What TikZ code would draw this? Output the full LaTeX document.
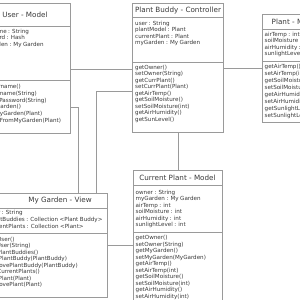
\documentclass[tikz,border=0pt]{standalone}
\usepackage{fontspec}
\setmainfont{DejaVu Sans}
\newfontfamily\bodyfont{DejaVu Sans}[WordSpace=0.85]
\definecolor{edge}{HTML}{9A9A9A}
\definecolor{ink}{HTML}{3A3A3A}
\tikzset{
 box/.style={draw=edge, line width=0.7pt, fill=white, inner sep=0pt, outer sep=0pt, anchor=north west},
 divl/.style={draw=edge, line width=0.7pt},
 conn/.style={draw=edge, line width=0.6pt},
 ttl/.style={font=\fontsize{7.2}{8}\selectfont, text=ink, inner sep=0pt},
 body/.style={font=\bodyfont\fontsize{5.6}{6}\selectfont, text=ink, inner sep=0pt, anchor=west, text height=4.1pt, text depth=1.2pt},
}
\begin{document}
\begin{tikzpicture}[x=1pt,y=-1pt]
\useasboundingbox (0,0) rectangle (300,300);
\fill[white] (0,0) rectangle (300,300);
% boxes
\node[box, minimum width=95pt, minimum height=130pt] (user) at (-25,3) {};
\node[box, minimum width=91pt, minimum height=129pt] (pb) at (132,3) {};
\node[box, minimum width=60pt, minimum height=108pt] (plant) at (262,14) {};
\node[box, minimum width=89pt, minimum height=140pt] (cp) at (133,170) {};
\node[box, minimum width=122pt, minimum height=104pt] (mg) at (-15,193) {};
% dividers
\draw[divl] ([yshift=-23pt]user.north west) -- ([yshift=-23pt]user.north east);
\draw[divl] ([yshift=-77pt]user.north west) -- ([yshift=-77pt]user.north east);
\draw[divl] ([yshift=-14pt]pb.north west) -- ([yshift=-14pt]pb.north east);
\draw[divl] ([yshift=-59pt]pb.north west) -- ([yshift=-59pt]pb.north east);
\draw[divl] ([yshift=-15pt]plant.north west) -- ([yshift=-15pt]plant.north east);
\draw[divl] ([yshift=-47pt]plant.north west) -- ([yshift=-47pt]plant.north east);
\draw[divl] ([yshift=-15pt]cp.north west) -- ([yshift=-15pt]cp.north east);
\draw[divl] ([yshift=-62pt]cp.north west) -- ([yshift=-62pt]cp.north east);
\draw[divl] ([yshift=-15pt]mg.north west) -- ([yshift=-15pt]mg.north east);
\draw[divl] ([yshift=-40pt]mg.north west) -- ([yshift=-40pt]mg.north east);
% titles
\node[ttl] (usert) at (25,14.5) {User - Model};
\node[ttl] (pbt) at (178,10.5) {Plant Buddy - Controller};
\node[ttl, anchor=west] (plantt) at (271.5,21.5) {Plant - Model};
\node[ttl] (cpt) at (177.5,177.5) {Current Plant - Model};
\node[ttl] (mgt) at (60,200.5) {My Garden - View};
% User
\foreach \t [count=\i from 0] in {username : String, password : Hash, myGarden : My Garden}
  {\node[body] (ua\i) at (-21.5,{32+6.5*\i}) {\t};}
\foreach \t [count=\i from 0] in {getUsername(), setUsername(String), changePassword(String), getMyGarden(), addToMyGarden(Plant), removeFromMyGarden(Plant)}
  {\node[body] (um\i) at (-21.5,{87+6.8*\i}) {\t};}
% Plant Buddy
\foreach \t [count=\i from 0] in {user : String, plantModel : Plant, currentPlant : Plant, myGarden : My Garden}
  {\node[body] (pa\i) at (135,{24+6.5*\i}) {\t};}
\foreach \t [count=\i from 0] in {getOwner(), setOwner(String), getCurrPlant(), setCurrPlant(Plant), getAirTemp(), getSoilMoisture(), setSoilMoisture(int), getAirHumidity(), getSunLevel()}
  {\node[body] (pm\i) at (135,{68+6.45*\i}) {\t};}
% Plant
\foreach \t [count=\i from 0] in {airTemp : int, soilMoisture : int, airHumidity : int, sunlightLevel : int}
  {\node[body] (la\i) at (264.5,{35+6.5*\i}) {\t};}
\foreach \t [count=\i from 0] in {getAirTemp(), setAirTemp(int), getSoilMoisture(), setSoilMoisture(int), getAirHumidity(), setAirHumidity(int), getSunlightLevel(), setSunlightLevel(int)}
  {\node[body] (lm\i) at (264.5,{67+7*\i}) {\t};}
% Current Plant
\foreach \t [count=\i from 0] in {owner : String, myGarden : My Garden, airTemp : int, soilMoisture : int, airHumidity : int, sunlightLevel : int}
  {\node[body] (ca\i) at (135.5,{193+6.5*\i}) {\t};}
\foreach \t [count=\i from 0] in {getOwner(), setOwner(String), getMyGarden(), setMyGarden(MyGarden), getAirTemp(), setAirTemp(int), getSoilMoisture(), setSoilMoisture(int), getAirHumidity(), setAirHumidity(int)}
  {\node[body] (cm\i) at (135.5,{238+6.55*\i}) {\t};}
% My Garden
\foreach \t [count=\i from 0] in {user : String, plantBuddies : Collection <Plant Buddy>, currentPlants : Collection <Plant>}
  {\node[body] (ga\i) at (-12,{213.5+6.8*\i}) {\t};}
\foreach \t [count=\i from 0] in {getUser(), setUser(String), getPlantBuddies(), addPlantBuddy(PlantBuddy), removePlantBuddy(PlantBuddy), getCurrentPlants(), addPlant(Plant), removePlant(Plant)}
  {\node[body] (gm\i) at (-12,{240+6.5*\i}) {\t};}
% connectors
\draw[conn] ([yshift=-66pt]user.north east) -- ([yshift=-66pt]pb.north west);
\draw[conn] ([yshift=-88pt]pb.north west) -| ([xshift=111pt]mg.north west);
\draw[conn] ([yshift=-104pt]user.north east) -| ([xshift=93pt]mg.north west);
\draw[conn] ([yshift=-65pt]pb.north east) -- ([yshift=-54pt]plant.north west);
\draw[conn] ([xshift=46pt]pb.south west) -- ([xshift=45pt]cp.north west);
\draw[conn] ([yshift=-52pt]mg.north east) -- ([yshift=-75pt]cp.north west);
\end{tikzpicture}
\end{document}
